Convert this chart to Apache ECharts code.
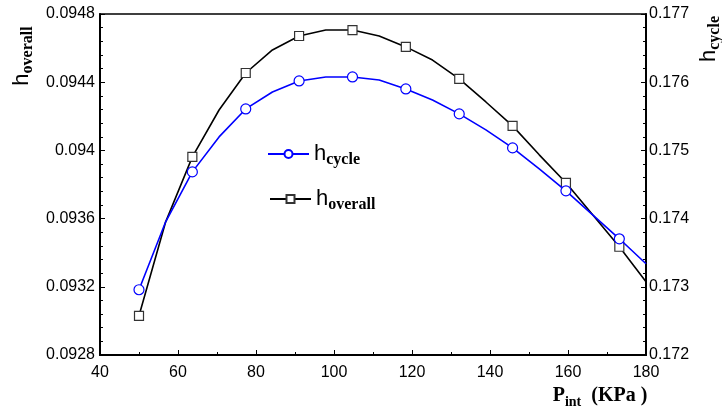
<!DOCTYPE html>
<html>
<head>
<meta charset="utf-8">
<script src="https://cdn.jsdelivr.net/npm/echarts@6/dist/echarts.min.js"></script>
<style>
html,body{margin:0;padding:0;background:#fff;}
#c{width:722px;height:414px;}
</style>
</head>
<body>
<div id="c"></div>
<script>
// ---- data ----
const pInt = [50, 56.84, 63.68, 70.53, 77.37, 84.21, 91.05, 97.89, 104.74, 111.58,
              118.42, 125.26, 132.11, 138.95, 145.79, 152.63, 159.47, 166.32, 173.16, 180];
const etaCycle = [0.172957, 0.173953, 0.174685, 0.175198, 0.175608, 0.175857, 0.176018, 0.176077, 0.176077, 0.176033,
                  0.175901, 0.175740, 0.175535, 0.175301, 0.175037, 0.174729, 0.174407, 0.174055, 0.173704, 0.173338];
const etaOverall = [0.093030, 0.093581, 0.093962, 0.094237, 0.094454, 0.094589, 0.094671, 0.094706, 0.094706, 0.094671,
                    0.094607, 0.094530, 0.094419, 0.094284, 0.094144, 0.093974, 0.093810, 0.093622, 0.093435, 0.093230];
const hasMarker = [true,false,true,false,true,false,true,false,true,false,
                   true,false,true,false,true,false,true,false,true,false];
const xTicks = ['40','60','80','100','120','140','160','180'];
const leftTicks = ['0.0928','0.0932','0.0936','0.094','0.0944','0.0948'];
const rightTicks = ['0.172','0.173','0.174','0.175','0.176','0.177'];

const chart = echarts.init(document.getElementById('c'), null, {renderer:'canvas'});
const SANS = 'Liberation Sans';
const SERIF = 'Liberation Serif';

function pick(arr, v, min, step){ const i = Math.round((v-min)/step); return arr[i] !== undefined ? arr[i] : ''; }

function mk(vals){
  return pInt.map((x,i)=>({value:[x, vals[i]], symbol: hasMarker[i] ? undefined : 'none'}));
}

const richLegend = {
  h:{fontFamily:SANS, fontSize:22, lineHeight:28, verticalAlign:'middle', color:'#000'},
  s:{fontFamily:SERIF, fontSize:16, fontWeight:'bold', lineHeight:16, verticalAlign:'bottom', color:'#000'}
};

const option = {
  animation:false,
  backgroundColor:'#fff',
  grid:{left:100, right:76, top:14, bottom:59, show:true, borderColor:'#000', borderWidth:1.5, containLabel:false},
  xAxis:{
    type:'value', min:40, max:180, interval:20,
    axisLine:{lineStyle:{color:'#000', width:2}},
    axisTick:{inside:true, length:5, lineStyle:{color:'#000'}},
    minorTick:{show:true, splitNumber:2, length:3, lineStyle:{color:'#000'}},
    splitLine:{show:false},
    axisLabel:{fontFamily:SANS, fontSize:16, color:'#000', margin:10,
      formatter:(v)=>pick(xTicks, v, 40, 20)}
  },
  yAxis:[
    {type:'value', position:'left', min:0.0928, max:0.0948, interval:0.0004,
     axisLine:{show:true, lineStyle:{color:'#000', width:2}},
     axisTick:{show:true, inside:true, length:5, lineStyle:{color:'#000'}},
     minorTick:{show:true, splitNumber:5, length:3, lineStyle:{color:'#000'}},
     splitLine:{show:false},
     axisLabel:{fontFamily:SANS, fontSize:16, color:'#000', margin:5,
       formatter:(v)=>pick(leftTicks, v, 0.0928, 0.0004)}},
    {type:'value', position:'right', min:0.172, max:0.177, interval:0.001,
     axisLine:{show:true, lineStyle:{color:'#000', width:2}},
     axisTick:{show:true, inside:true, length:5, lineStyle:{color:'#000'}},
     minorTick:{show:true, splitNumber:5, length:3, lineStyle:{color:'#000'}},
     splitLine:{show:false},
     axisLabel:{fontFamily:SANS, fontSize:16, color:'#000', margin:3,
       formatter:(v)=>pick(rightTicks, v, 0.172, 0.001)}}
  ],
  legend:[
    {data:['cycle'], left:267, top:143, padding:0, itemWidth:41, itemHeight:10, itemGap:0,
     textStyle:{rich:richLegend}, formatter:()=>'{h|h}{s|cycle}'},
    {data:['overall'], left:269, top:188, padding:0, itemWidth:41, itemHeight:10, itemGap:0,
     textStyle:{rich:richLegend}, formatter:()=>'{h|h}{s|overall}'}
  ],
  series:[
    {name:'cycle', type:'line', yAxisIndex:1, data:mk(etaCycle),
     symbol:'circle', symbolSize:10, showAllSymbol:true,
     lineStyle:{color:'#0000ff', width:1.6},
     itemStyle:{color:'#fff', borderColor:'#0000ff', borderWidth:1.2},
     z:3},
    {name:'overall', type:'line', yAxisIndex:0, data:mk(etaOverall),
     symbol:'rect', symbolSize:9, showAllSymbol:true,
     lineStyle:{color:'#000', width:1.6},
     itemStyle:{color:'#fff', borderColor:'#333', borderWidth:1.2},
     z:2}
  ],
  graphic:[
    {type:'text', x:22, y:56, rotation:Math.PI/2,
     style:{text:'{h|h}{s|overall}', align:'center', verticalAlign:'middle', rich:richLegend}},
    {type:'text', x:709, y:39, rotation:Math.PI/2,
     style:{text:'{h|h}{s|cycle}', align:'center', verticalAlign:'middle', rich:richLegend}},
    {type:'text', x:600, y:396,
     style:{text:'{b|P}{sub|int}{b|  (KPa )}', align:'center', verticalAlign:'middle',
       rich:{
         b:{fontFamily:SERIF, fontSize:20, fontWeight:'bold', lineHeight:26, verticalAlign:'middle', color:'#000'},
         sub:{fontFamily:SERIF, fontSize:14, fontWeight:'bold', lineHeight:14, verticalAlign:'bottom', color:'#000'}
       }}}
  ]
};
chart.setOption(option);
</script>
</body>
</html>
